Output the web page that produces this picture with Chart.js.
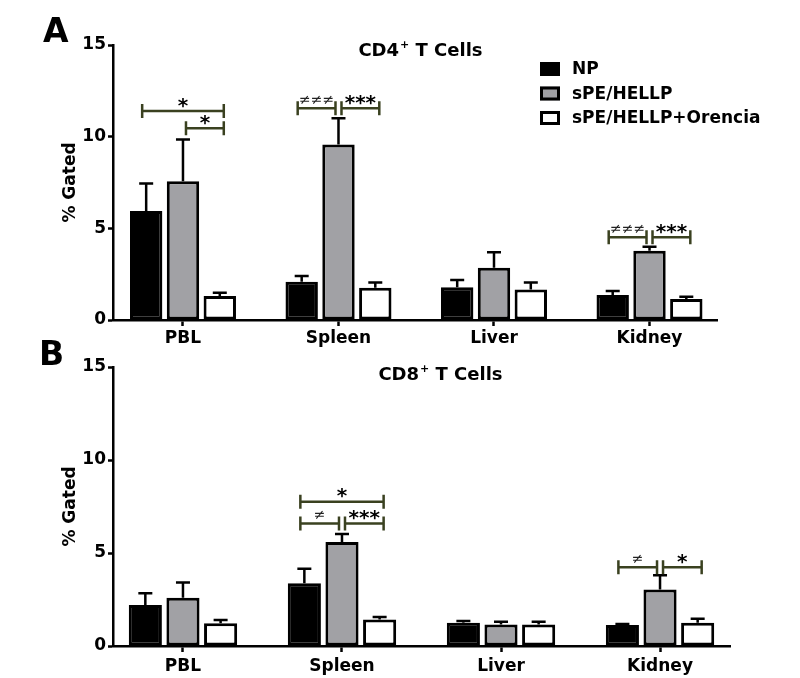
<!DOCTYPE html>
<html>
<head>
<meta charset="utf-8">
<script src="https://cdn.jsdelivr.net/npm/chart.js@4.4.1/dist/chart.umd.min.js"></script>
<style>
  html, body { margin: 0; padding: 0; background: #fff; }
  #wrap { position: relative; width: 800px; height: 678px; overflow: hidden; }
  canvas { position: absolute; left: 0; }
  #cA { top: 0; }
  #cB { top: 340px; }
</style>
</head>
<body>
<div id="wrap">
  <canvas id="cA" width="800" height="360"></canvas>
  <canvas id="cB" width="800" height="338"></canvas>
</div>
<script>
// ── data ──
const categories = ['PBL', 'Spleen', 'Liver', 'Kidney'];
const groupNames = ['NP', 'sPE/HELLP', 'sPE/HELLP+Orencia'];
const groupFill = ['#000000', '#a1a1a5', '#ffffff'];
const yTicks = [0, 5, 10, 15];

// CD4+ T cells (% gated), mean and upper error
const cd4NP = [5.95, 2.09, 1.78, 1.36];
const cd4NPErr = [1.50, 0.31, 0.40, 0.22];
const cd4HELLP = [7.57, 9.57, 2.85, 3.78];
const cd4HELLPErr = [2.28, 1.43, 0.84, 0.22];
const cd4Orencia = [1.31, 1.76, 1.67, 1.14];
const cd4OrenciaErr = [0.18, 0.29, 0.38, 0.13];

// CD8+ T cells (% gated)
const cd8NP = [2.20, 3.37, 1.25, 1.13];
const cd8NPErr = [0.63, 0.78, 0.09, 0.05];
const cd8HELLP = [2.60, 5.59, 1.16, 3.04];
const cd8HELLPErr = [0.82, 0.43, 0.15, 0.76];
const cd8Orencia = [1.22, 1.43, 1.16, 1.25];
const cd8OrenciaErr = [0.18, 0.13, 0.15, 0.22];

// significance brackets: [category, from group, to group, height, mark]
const cd4Sig = [
  [0, 0, 2, 11.4, '*'],
  [0, 1, 2, 10.46, '*'],
  [1, 0, 1, 11.55, '≠≠≠'],
  [1, 1, 2, 11.55, '***'],
  [3, 0, 1, 4.52, '≠≠≠'],
  [3, 1, 2, 4.52, '***']
];
const cd8Sig = [
  [1, 0, 2, 7.75, '*'],
  [1, 0, 1, 6.59, '≠'],
  [1, 1, 2, 6.59, '***'],
  [3, 0, 1, 4.23, '≠'],
  [3, 1, 2, 4.23, '*']
];

const FONT = '"DejaVu Sans", sans-serif';
Chart.defaults.font.family = FONT;
Chart.defaults.color = '#000';

// ── 그 외 장식: 오차막대, 유의성 괄호, 제목, 범례 ──
function panelPlugin(cfg) {
  return {
    id: 'panel' + cfg.letter,
    afterDatasetsDraw(chart) {
      const ctx = chart.ctx;
      const y = chart.scales.y;
      ctx.save();

      // error bars (upper only)
      ctx.strokeStyle = '#000';
      ctx.lineWidth = 2.5;
      cfg.errors.forEach((errs, d) => {
        const vals = chart.data.datasets[d].data;
        chart.getDatasetMeta(d).data.forEach((bar, i) => {
          const top = y.getPixelForValue(vals[i] + errs[i]);
          ctx.beginPath();
          ctx.moveTo(bar.x, bar.y);
          ctx.lineTo(bar.x, top);
          ctx.moveTo(bar.x - 7, top);
          ctx.lineTo(bar.x + 7, top);
          ctx.stroke();
        });
      });

      // brackets
      cfg.sig.forEach(([c, a, b, v, mark]) => {
        const x0 = chart.getDatasetMeta(a).data[c].x + (a === 1 ? 3 : -4);
        const x1 = chart.getDatasetMeta(b).data[c].x + (b === 1 ? -3 : 4);
        const py = y.getPixelForValue(v);
        ctx.strokeStyle = '#3a4120';
        ctx.lineWidth = 2.5;
        ctx.beginPath();
        ctx.moveTo(x0, py); ctx.lineTo(x1, py);
        ctx.moveTo(x0, py - 7); ctx.lineTo(x0, py + 7);
        ctx.moveTo(x1, py - 7); ctx.lineTo(x1, py + 7);
        ctx.stroke();
        ctx.textAlign = 'center';
        ctx.textBaseline = 'alphabetic';
        if (mark.includes('*')) {
          ctx.fillStyle = '#000';
          ctx.font = 'bold 20px ' + FONT;
          ctx.fillText(mark, (x0 + x1) / 2, py + 0.5);
        } else {
          ctx.fillStyle = '#222';
          ctx.font = '14px ' + FONT;
          ctx.fillText(mark, (x0 + x1) / 2, py - 4);
        }
      });

      // panel letter
      ctx.fillStyle = '#000';
      ctx.textAlign = 'left';
      ctx.textBaseline = 'alphabetic';
      ctx.font = 'bold 33px ' + FONT;
      ctx.fillText(cfg.letter, cfg.letterX, cfg.letterY);

      // title with superscript
      ctx.font = 'bold 18px ' + FONT;
      const w1 = ctx.measureText(cfg.title[0]).width;
      const w3 = ctx.measureText(cfg.title[2]).width;
      ctx.font = 'bold 11px ' + FONT;
      const w2 = ctx.measureText(cfg.title[1]).width;
      const tx = cfg.titleX - (w1 + w2 + w3) / 2;
      ctx.font = 'bold 18px ' + FONT;
      ctx.fillText(cfg.title[0], tx, cfg.titleY);
      ctx.font = 'bold 11px ' + FONT;
      ctx.fillText(cfg.title[1], tx + w1 + 1, cfg.titleY - 8);
      ctx.font = 'bold 18px ' + FONT;
      ctx.fillText(cfg.title[2], tx + w1 + w2 + 1, cfg.titleY);

      // legend
      if (cfg.legend) {
        groupNames.forEach((name, d) => {
          const cy = 69 + d * 24.5;
          ctx.fillStyle = groupFill[d];
          ctx.fillRect(540, cy - 7, 20, 14);
          ctx.strokeStyle = '#000';
          ctx.lineWidth = 3;
          ctx.strokeRect(541.5, cy - 5.5, 17, 11);
          ctx.fillStyle = '#000';
          ctx.font = 'bold 17px ' + FONT;
          ctx.textBaseline = 'middle';
          ctx.fillText(name, 572, cy + 1);
        });
      }
      ctx.restore();
    }
  };
}

function makeChart(id, series, cfg) {
  return new Chart(document.getElementById(id), {
    type: 'bar',
    data: {
      labels: categories.map((_, i) => i),
      datasets: series.map((vals, d) => ({
        label: groupNames[d],
        data: vals,
        backgroundColor: groupFill[d],
        borderColor: '#000',
        borderWidth: 3,
        borderSkipped: false,
        categoryPercentage: 0.71,
        barPercentage: 0.88
      }))
    },
    options: {
      responsive: false,
      animation: false,
      layout: { padding: { top: cfg.padTop, right: cfg.padRight, bottom: 0, left: 0 } },
      plugins: { legend: { display: false }, tooltip: { enabled: false } },
      scales: {
        x: {
          type: 'linear',
          min: cfg.xMin,
          max: cfg.xMax,
          offset: false,
          grid: { display: true, offset: false, drawOnChartArea: false, tickLength: 6, tickWidth: 2.5, tickColor: '#000' },
          border: { color: '#000', width: 2.5 },
          ticks: {
            stepSize: 1, includeBounds: false, autoSkip: false, maxRotation: 0, padding: cfg.xPad,
            color: '#000', font: { size: 17, weight: 'bold' },
            callback: v => categories[v] ?? ''
          },
          afterFit: s => { s.height = cfg.xHeight; }
        },
        y: {
          min: 0,
          max: 15,
          grid: { display: true, drawOnChartArea: false, tickLength: 5, tickWidth: 2.5, tickColor: '#000' },
          border: { color: '#000', width: 2.5 },
          ticks: { padding: 2, color: '#000', font: { size: 17, weight: 'bold' } },
          afterBuildTicks: s => { s.ticks = yTicks.map(value => ({ value })); },
          title: {
            display: true, text: '% Gated', color: '#000',
            font: { size: 17, weight: 'bold' }, padding: { top: 60, bottom: 0 }
          },
          afterFit: s => { s.width = 113; }
        }
      }
    },
    plugins: [panelPlugin(cfg)]
  });
}

makeChart('cA', [cd4NP, cd4HELLP, cd4Orencia], {
  letter: 'A', letterX: 43, letterY: 42,
  title: ['CD4', '+', ' T Cells'], titleX: 420, titleY: 56,
  legend: true,
  errors: [cd4NPErr, cd4HELLPErr, cd4OrenciaErr],
  sig: cd4Sig,
  padTop: 45, padRight: 83, xHeight: 40, xPad: 2,
  xMin: -0.450, xMax: 3.434
});

makeChart('cB', [cd8NP, cd8HELLP, cd8Orencia], {
  letter: 'B', letterX: 39, letterY: 25,
  title: ['CD8', '+', ' T Cells'], titleX: 440, titleY: 40,
  legend: false,
  errors: [cd8NPErr, cd8HELLPErr, cd8OrenciaErr],
  sig: cd8Sig,
  padTop: 27, padRight: 70, xHeight: 32, xPad: 4,
  xMin: -0.440, xMax: 3.440
});
</script>
</body>
</html>
